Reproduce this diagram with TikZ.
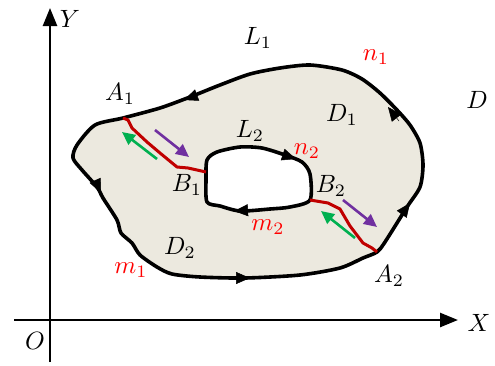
\documentclass[tikz,border=0pt]{standalone}
\usepackage{graphicx}
\usetikzlibrary{arrows.meta}
\definecolor{regionfill}{RGB}{236,233,223}
\definecolor{cutred}{RGB}{192,0,0}
\definecolor{lblred}{RGB}{255,0,0}
\definecolor{purp}{RGB}{112,48,160}
\definecolor{grn}{RGB}{0,176,80}
\newcommand{\biglbl}[1]{\scalebox{2.5}{$#1$}}
\begin{document}
\begin{tikzpicture}[x=1pt,y=-1pt,
  bound/.style={line width=3.6pt, line join=round},
  tipmark/.style={line width=0.5pt, -{Triangle[length=14pt,width=12pt]}},
  cut/.style={cutred, line width=3pt, line join=round},
  purparrow/.style={purp, line width=2.6pt, -{Triangle[length=13pt,width=12pt]}},
  grnarrow/.style={grn, line width=2.6pt, -{Triangle[length=13pt,width=12pt]}},
  lbl/.style={inner sep=0pt},
  rlbl/.style={lbl, text=lblred}]
\useasboundingbox (0,0) rectangle (495,365);
% region with hole
\fill[regionfill, even odd rule]
  plot[smooth cycle, tension=0.45] coordinates {(123,118) (95,125) (77,145) (73,158) (82,170) (97,187) (103,198) (117,220) (121,233) (132,243) (140,255) (157,267) (172,274) (200,277) (245,278) (300,275) (340,268) (363,258) (377,252) (385,242) (407,207) (420,187) (423,165) (420,143) (410,125) (397,110) (380,93) (362,79) (342,70) (310,65) (280,68) (250,74) (220,85) (190,97) (160,108)}
  plot[smooth cycle, tension=0.45] coordinates {(207,160) (217,152) (240,147) (262,148) (285,155) (302,162) (310,174) (310,200) (290,207) (270,209) (240,211) (220,206) (207,202) (206,180)};
% outer boundary L1
\draw[bound] plot[smooth cycle, tension=0.45] coordinates {(123,118) (95,125) (77,145) (73,158) (82,170) (97,187) (103,198) (117,220) (121,233) (132,243) (140,255) (157,267) (172,274) (200,277) (245,278) (300,275) (340,268) (363,258) (377,252) (385,242) (407,207) (420,187) (423,165) (420,143) (410,125) (397,110) (380,93) (362,79) (342,70) (310,65) (280,68) (250,74) (220,85) (190,97) (160,108)};
% inner boundary L2
\draw[bound] plot[smooth cycle, tension=0.45] coordinates {(207,160) (217,152) (240,147) (262,148) (285,155) (302,162) (310,174) (310,200) (290,207) (270,209) (240,211) (220,206) (207,202) (206,180)};
% direction marks on boundaries
\coordinate (t1a) at (200,94);  \coordinate (t1b) at (184,100);
\coordinate (t2a) at (95,180);  \coordinate (t2b) at (101,193);
\coordinate (t3a) at (232,278); \coordinate (t3b) at (250,278);
\coordinate (t4a) at (399,218); \coordinate (t4b) at (410,203);
\coordinate (t5a) at (399,121); \coordinate (t5b) at (388,107);
\coordinate (t6a) at (278,153); \coordinate (t6b) at (296,159);
\coordinate (t7a) at (252,210); \coordinate (t7b) at (234,211);
\foreach \i in {1,...,7} \draw[tipmark] (t\i a) -- (t\i b);
% cuts
\coordinate (A1) at (123,118); \coordinate (B1) at (206,172);
\coordinate (B2) at (310,200); \coordinate (A2) at (377,252);
\draw[cut] (A1) -- (128,120) -- (132,128) -- (147,142) -- (160,153) -- (177,167) -- (188,168) -- (B1);
\draw[cut] (B2) -- (328,203) -- (340,209) -- (350,226) -- (363,243) -- (372,248) -- (A2);
% purple and green arrows
\coordinate (p1a) at (155,130); \coordinate (p1b) at (189,157);
\coordinate (p2a) at (343,200); \coordinate (p2b) at (377,227);
\coordinate (g1a) at (157,159); \coordinate (g1b) at (122,132);
\coordinate (g2a) at (355,238); \coordinate (g2b) at (321,211);
\draw[purparrow] (p1a) -- (p1b);
\draw[purparrow] (p2a) -- (p2b);
\draw[grnarrow] (g1a) -- (g1b);
\draw[grnarrow] (g2a) -- (g2b);
% axes
\coordinate (Ybot) at (50,362); \coordinate (Ytop) at (50,8);
\coordinate (Xleft) at (14,320); \coordinate (Xright) at (458,320);
\draw[line width=2.5pt, -{Triangle[length=18pt,width=14pt]}] (Ybot) -- (Ytop);
\draw[line width=2.5pt, -{Triangle[length=18pt,width=14pt]}] (Xleft) -- (Xright);
% labels
\node[lbl] (lY) at (70,19) {\biglbl{Y}};
\node[lbl] (lX) at (479,323) {\biglbl{X}};
\node[lbl] (lO) at (35,341) {\biglbl{O}};
\node[lbl] (lL1) at (258,38) {\biglbl{L_1}};
\node[rlbl] (ln1) at (376,57) {\biglbl{n_1}};
\node[lbl] (lD) at (477,100) {\biglbl{D}};
\node[lbl] (lA1) at (120,94) {\biglbl{A_1}};
\node[lbl] (lD1) at (342,115) {\biglbl{D_1}};
\node[lbl] (lL2) at (250,131) {\biglbl{L_2}};
\node[rlbl] (ln2) at (307,151) {\biglbl{n_2}};
\node[lbl] (lB1) at (187,185) {\biglbl{B_1}};
\node[lbl] (lB2) at (331,186) {\biglbl{B_2}};
\node[rlbl] (lm2) at (268,227) {\biglbl{m_2}};
\node[lbl] (lD2) at (180,248) {\biglbl{D_2}};
\node[rlbl] (lm1) at (131,270) {\biglbl{m_1}};
\node[lbl] (lA2) at (389,276) {\biglbl{A_2}};
\end{tikzpicture}
\end{document}
